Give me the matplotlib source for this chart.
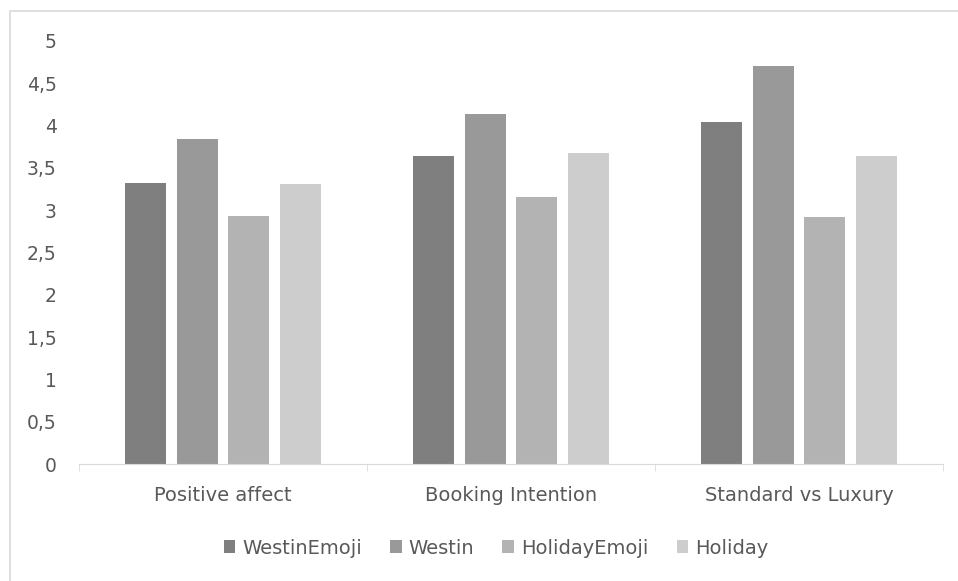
import matplotlib.pyplot as plt
import matplotlib.patches as patches
import numpy as np

categories = ['Positive affect', 'Booking Intention', 'Standard vs Luxury']
series_names = ['WestinEmoji', 'Westin', 'HolidayEmoji', 'Holiday']
westin_emoji = [3.32, 3.64, 4.04]
westin = [3.84, 4.14, 4.70]
holiday_emoji = [2.93, 3.16, 2.92]
holiday = [3.31, 3.68, 3.64]
colors = ['#7f7f7f', '#999999', '#b3b3b3', '#cdcdcd']

plt.rcParams['font.family'] = ['DejaVu Sans']

fig = plt.figure(figsize=(9.58, 5.81), dpi=100)
ax = fig.add_axes([79 / 958, 117 / 581, 864 / 958, 423 / 581])

# outer chart border
fig.patches.append(patches.Rectangle((10 / 958, -0.01), 1.0, 570 / 581 + 0.01,
                                     transform=fig.transFigure, fill=False,
                                     edgecolor='#d9d9d9', linewidth=1.2))

x = np.arange(len(categories))
step = 0.18
width = 0.142
values = [westin_emoji, westin, holiday_emoji, holiday]
for i, (name, vals) in enumerate(zip(series_names, values)):
    ax.bar(x + (i - 1.5) * step, vals, width, color=colors[i], label=name)

ax.set_xlim(-0.5, 2.5)
ax.set_ylim(0, 5)
ax.set_yticks(np.arange(0, 5.01, 0.5))
ax.set_yticklabels([('%g' % v).replace('.', ',') for v in np.arange(0, 5.01, 0.5)])
ax.set_xticks(x)
ax.set_xticklabels(categories)
ax.set_xticks([-0.5, 0.5, 1.5, 2.5], minor=True)

for side in ['top', 'right', 'left']:
    ax.spines[side].set_visible(False)
ax.spines['bottom'].set_color('#d9d9d9')
ax.tick_params(axis='y', length=0, pad=16, labelsize=13.5, labelcolor='#595959')
ax.tick_params(axis='x', which='major', length=0, pad=16, labelsize=14, labelcolor='#595959')
ax.tick_params(axis='x', which='minor', length=5, color='#d9d9d9')

fig.legend(*ax.get_legend_handles_labels(), loc='center',
           bbox_to_anchor=(496 / 958, 33 / 581), ncol=4, frameon=False,
           handlelength=0.6, handleheight=0.6, handletextpad=0.35, columnspacing=1.45,
           fontsize=14, labelcolor='#595959')

fig.savefig('out.png', dpi=100)
